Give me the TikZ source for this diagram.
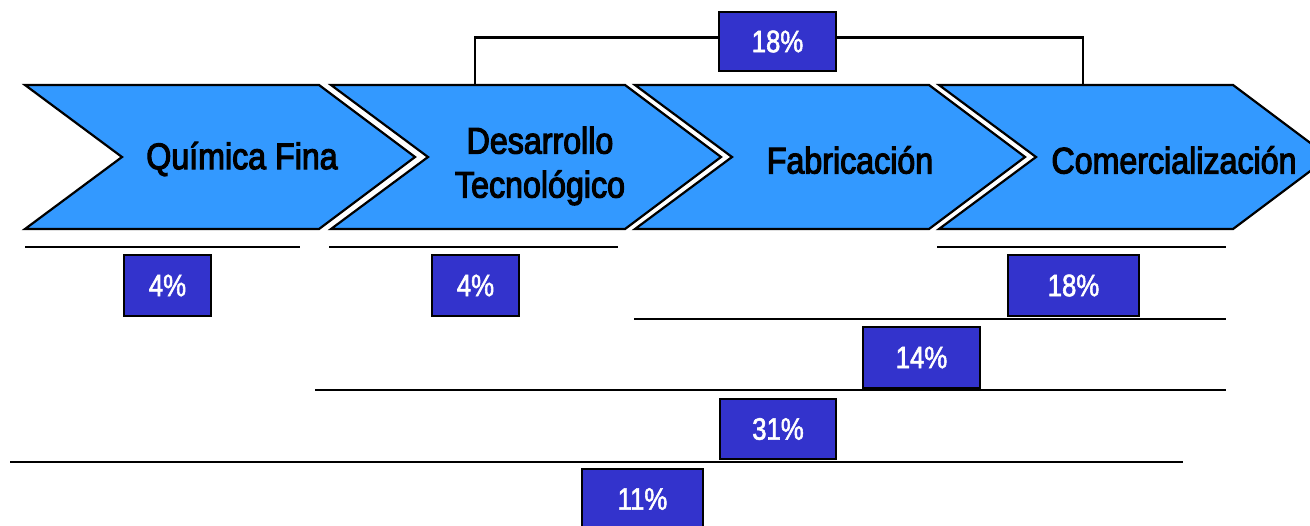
\documentclass[tikz,border=0pt]{standalone}
\usepackage{fontspec}
\setmainfont{Liberation Sans}[FakeStretch=0.84]
\newfontfamily\chevfont{Liberation Sans}[FakeStretch=0.87, FakeBold=3]
\newfontfamily\pctfont{Liberation Sans}[FakeStretch=0.83, FakeBold=1.8]
\definecolor{chevblue}{RGB}{51,153,255}
\definecolor{boxblue}{RGB}{51,51,204}
\tikzset{
  chev/.style={fill=chevblue, draw=black, line width=1.1pt, line join=miter},
  chevtext/.style={font=\chevfont\fontsize{18.5}{22}\selectfont, text=black, align=center, inner sep=0pt},
  pctbox/.style={draw=black, fill=boxblue, line width=1.4pt, inner sep=0pt,
     font=\pctfont\fontsize{15.5}{18}\selectfont, text=white, minimum height=30.5pt},
  rule/.style={draw=black, line width=1.3pt},
}
\begin{document}
\begin{tikzpicture}[x=0.5pt, y=-0.5pt]
\clip (0,0) rectangle (1310,525);
\useasboundingbox (0,0) rectangle (1310,525);

% chevrons
\foreach \l in {25,331,635,939}{
  \path[chev] (\l,85) -- (\l+294,85) -- (\l+390,157) -- (\l+294,229) -- (\l,229) -- (\l+97,157) -- cycle;
}
\node[chevtext] (qf) at (242,159) {Química Fina};
\node[chevtext] (dt) at (540,166) {Desarrollo\\Tecnológico};
\node[chevtext] (fab) at (850,160) {Fabricación};
\node[chevtext] (com) at (1174,160) {Comercialización};

% top bracket
\coordinate (bl) at (475,85);
\coordinate (br) at (1083,85);
\draw[rule, line width=1.1pt] (bl) -- (475,37.5) -- (1083,37.5) -- (br);
\node[pctbox, minimum width=58.5pt, minimum height=29.5pt] (t18) at (777.5,41.5) {18\%};

% horizontal rules
\coordinate (r1a) at (25,247);   \coordinate (r1b) at (300,247);
\coordinate (r2a) at (329,247);  \coordinate (r2b) at (618,247);
\coordinate (r3a) at (937,247);  \coordinate (r3b) at (1226,247);
\coordinate (r4a) at (634,319);  \coordinate (r4b) at (1226,319);
\coordinate (r5a) at (315,390);  \coordinate (r5b) at (1226,390);
\coordinate (r6a) at (10,462);   \coordinate (r6b) at (1183,462);
\draw[rule] (r1a) -- (r1b);
\draw[rule] (r2a) -- (r2b);
\draw[rule] (r3a) -- (r3b);
\draw[rule] (r4a) -- (r4b);
\draw[rule] (r5a) -- (r5b);
\draw[rule] (r6a) -- (r6b);

% percentage boxes
\node[pctbox, minimum width=43.5pt] (b4a) at (167.5,285.5) {4\%};
\node[pctbox, minimum width=43.5pt] (b4b) at (475.5,285.5) {4\%};
\node[pctbox, minimum width=65.5pt] (b18) at (1073.5,285.5) {18\%};
\node[pctbox, minimum width=58.5pt] (b14) at (921.5,357.5) {14\%};
\node[pctbox, minimum width=58pt, minimum height=30pt] (b31) at (778,429) {31\%};
\node[pctbox, minimum width=60.5pt, minimum height=30pt] (b11) at (642.5,499) {11\%};
\end{tikzpicture}
\end{document}
